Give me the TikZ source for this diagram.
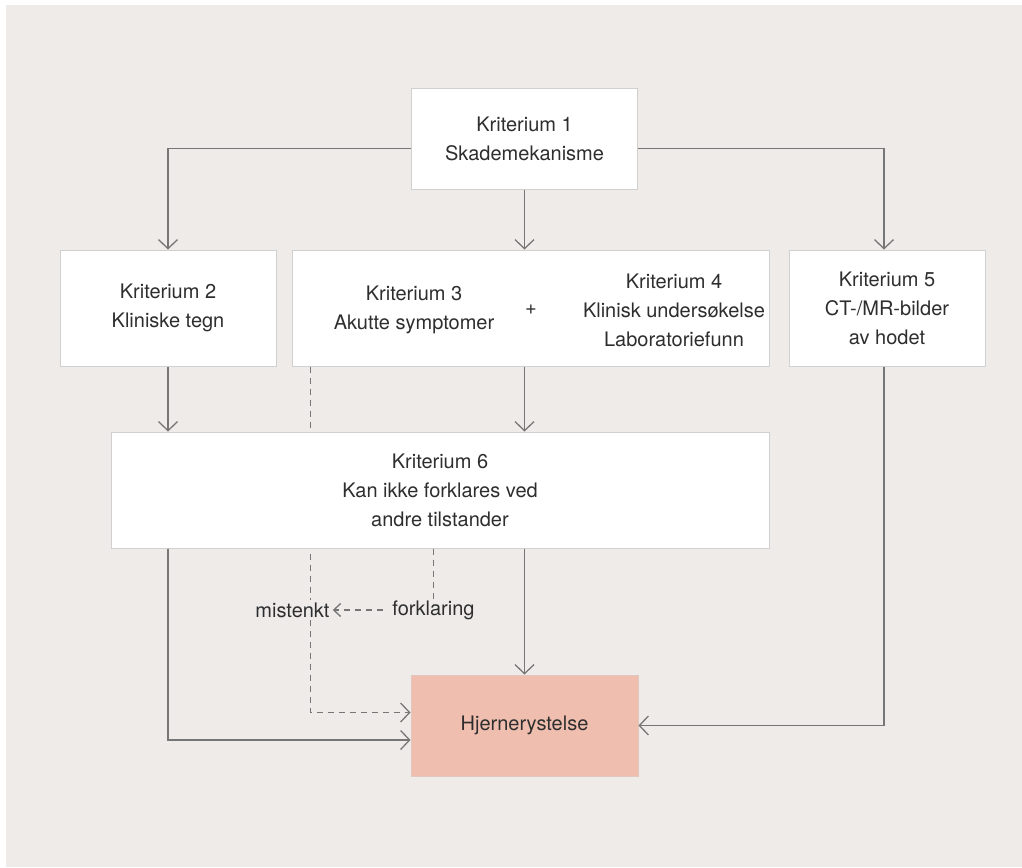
\documentclass[tikz,border=0pt]{standalone}
\usepackage{fontspec}
\setmainfont{TeX Gyre Heros}
\usetikzlibrary{arrows.meta}
\definecolor{bgcol}{RGB}{238,235,233}
\definecolor{hjcol}{RGB}{240,190,174}
\definecolor{linecol}{RGB}{118,118,118}
\definecolor{boxline}{RGB}{208,208,208}
\definecolor{txtcol}{RGB}{46,46,46}

\begin{document}
\begin{tikzpicture}[x=1pt,y=-1pt,
    box/.style={draw=boxline,line width=1pt,fill=white,align=center,text=txtcol,
                font=\fontsize{20}{29}\selectfont,inner sep=0pt},
    txt/.style={align=center,text=txtcol,font=\fontsize{20}{29}\selectfont},
    arr/.style={draw=linecol,line width=1.3pt,-{Straight Barb[length=9pt,width=19pt]}},
    dasharr/.style={arr,dash pattern=on 6pt off 5pt}]
    \useasboundingbox (0,0) rectangle (1022,867);
    \fill[white] (0,0) rectangle (1022,867);
    \fill[bgcol] (6,5) rectangle (1022,867);
    % boxes
    \node[box,minimum width=226pt,minimum height=101pt] (k1) at (524.5,138.5) {Kriterium 1\\Skademekanisme};
    \node[box,minimum width=216pt,minimum height=116pt] (k2) at (168,308) {Kriterium 2\\Kliniske tegn};
    \node[box,minimum width=477pt,minimum height=116pt] (k34) at (530.5,308) {};
    \node[txt] (k3) at (414,310) {Kriterium 3\\Akutte symptomer};
    \node[txt] (pluss) at (531,310) {+};
    \node[txt] (k4) at (674,310) {Kriterium 4\\Klinisk undersøkelse\\Laboratoriefunn};
    \node[box,minimum width=196pt,minimum height=116pt] (k5) at (887,308) {Kriterium 5\\CT-/MR-bilder\\av hodet};
    \node[box,fill=hjcol,draw=hjcol!85!black!60,minimum width=227pt,minimum height=101pt] (hj) at (524.5,725.5) {Hjernerystelse};
    % mistenkt, behind K6
    \draw[dasharr] ([xshift=19pt]k34.south west) |- ([yshift=13pt]hj.west);
    \node[box,minimum width=658pt,minimum height=116pt] (k6) at (440,490) {Kriterium 6\\Kan ikke forklares ved\\andre tilstander};
    \node[txt,fill=bgcol,inner sep=3pt] (mist) at (292.5,610) {mistenkt};
    \node[txt,inner sep=3pt] (fork) at (433.5,610) {forklaring};
    \draw[linecol,line width=1.3pt,dash pattern=on 6pt off 5pt] (fork.north |- k6.south) -- ([yshift=-8pt]fork.north);
    \draw[linecol,line width=1.3pt,dash pattern=on 6pt off 5pt,-{Straight Barb[length=7pt,width=13pt]}] ([xshift=-6pt]fork.west) -- (mist.east);
    % connectors
    \draw[arr] ([yshift=-10pt]k1.west) -| (k2.north);
    \draw[arr] ([yshift=-10pt]k1.east) -| ([xshift=-3pt]k5.north);
    \draw[arr] (k1.south) -- (k1.south |- k34.north);
    \draw[arr] (k2.south) -- (k2.south |- k6.north);
    \draw[arr] (k1.south |- k34.south) -- (k1.south |- k6.north);
    \draw[arr] (hj.north |- k6.south) -- (hj.north);
    \draw[arr] (k2.south |- k6.south) |- ([yshift=-14.5pt]hj.west);
    \draw[arr] ([xshift=-3pt]k5.south) |- (hj.east);
\end{tikzpicture}
\end{document}
